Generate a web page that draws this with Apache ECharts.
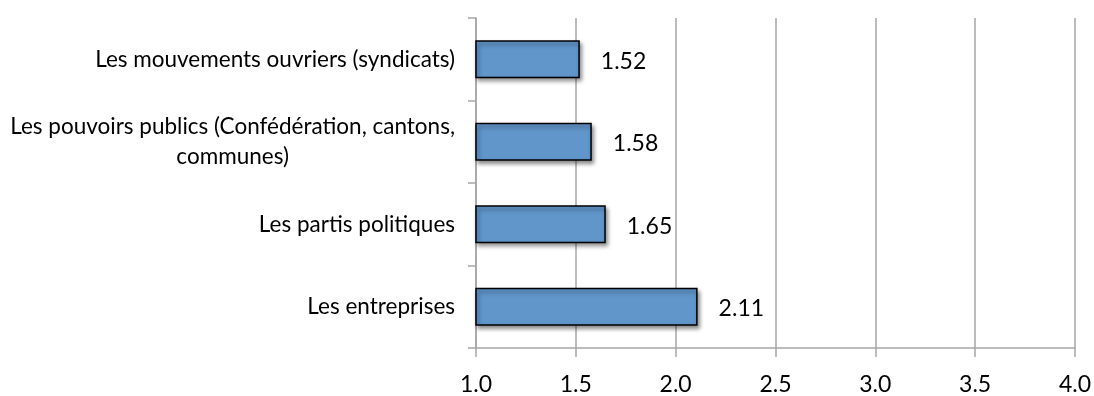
<!DOCTYPE html>
<html><head><meta charset="utf-8">
<script src="https://cdn.jsdelivr.net/npm/echarts@6/dist/echarts.min.js"></script>
<style>html,body{margin:0;padding:0;background:#fff}#c{width:1094px;height:396px}</style>
</head><body><div id="c"></div>
<script>
var categories = [
  "Les mouvements ouvriers (syndicats)",
  "Les pouvoirs publics (Confédération, cantons,\ncommunes)",
  "Les partis politiques",
  "Les entreprises"
];
var values = [1.52, 1.58, 1.65, 2.11];
var xMin = 1.0, xMax = 4.0, xStep = 0.5;

var FONT = 'Lato';
var chart = echarts.init(document.getElementById('c'), null, {renderer: 'canvas'});
chart.setOption({
  animation: false,
  grid: {left: 476, right: 18, top: 18, bottom: 45, containLabel: false},
  xAxis: {
    type: 'value', min: xMin, max: xMax, interval: xStep,
    axisLine: {show: true, lineStyle: {color: '#A6A6A6', width: 1.5}},
    axisTick: {show: true, length: 9, lineStyle: {color: '#A6A6A6', width: 1.5}},
    splitLine: {show: true, lineStyle: {color: '#A6A6A6', width: 1.5}},
    axisLabel: {
      color: '#000', fontFamily: FONT, fontSize: 23, margin: 25,
      formatter: function (v) { return v.toFixed(1); }
    }
  },
  yAxis: {
    type: 'category', data: categories, inverse: true,
    axisLine: {show: true, lineStyle: {color: '#A6A6A6', width: 1.5}},
    axisTick: {show: true, length: 8, lineStyle: {color: '#A6A6A6', width: 1.5}},
    splitLine: {show: false},
    axisLabel: {
      color: '#000', fontFamily: FONT, fontSize: 22.5, margin: 21, lineHeight: 30,
      formatter: function (v) {
        var parts = v.split('\n');
        if (parts.length === 1) return '{a|' + v + '}';
        return '{a|' + parts[0] + '}\n{b|' + parts[1] + '}';
      },
      rich: {
        a: {fontFamily: FONT, fontSize: 22.5, color: '#000', lineHeight: 30},
        b: {fontFamily: FONT, fontSize: 22.5, color: '#000', lineHeight: 30, align: 'center'}
      }
    }
  },
  series: [{
    type: 'bar', data: values, barWidth: '46%', clip: true,
    itemStyle: {
      color: '#6196CB', borderColor: '#000', borderWidth: 1.5,
      shadowColor: 'rgba(0,0,0,0.45)', shadowBlur: 4, shadowOffsetX: 2, shadowOffsetY: 3
    },
    label: {
      show: true, position: 'right', distance: 21, color: '#000',
      fontFamily: FONT, fontSize: 23, offset: [0, 2],
      formatter: function (p) { return p.value.toFixed(2); }
    }
  }]
});
</script></body></html>
